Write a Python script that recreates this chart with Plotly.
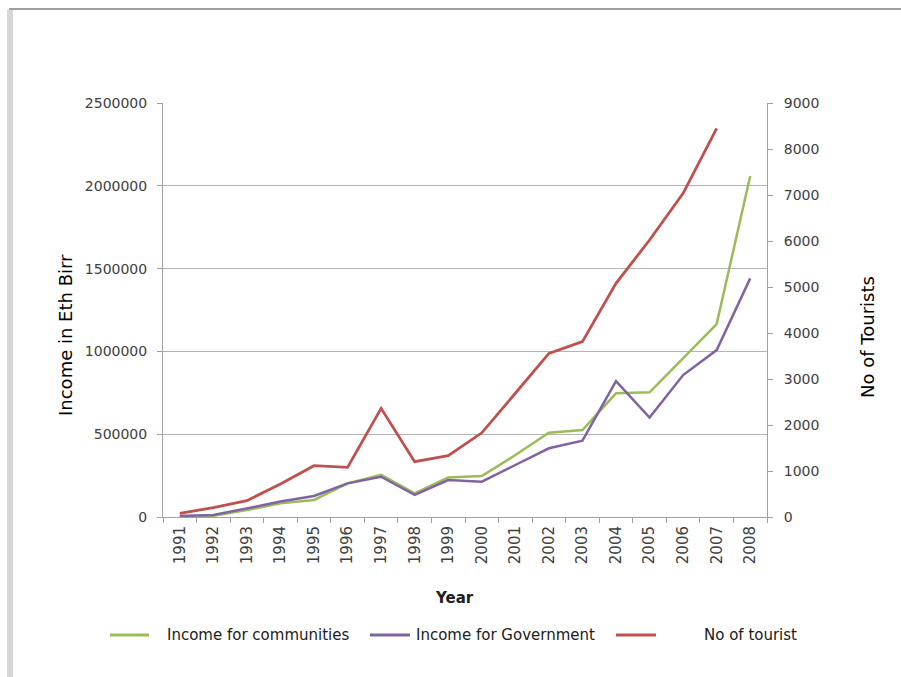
import plotly.graph_objects as go

years = [str(y) for y in range(1991, 2009)]
income_communities = [5000, 8000, 42000, 83000, 103000, 203000, 254000, 143000, 238000, 247000,
                      374000, 509000, 525000, 747000, 753000, 958000, 1165000, 2059000]
income_government = [6000, 12000, 52000, 93000, 127000, 203000, 243000, 133000, 223000, 213000,
                     314000, 415000, 461000, 821000, 600000, 857000, 1008000, 1441000]
tourists = [80, 203, 355, 717, 1116, 1080, 2362, 1203, 1333, 1830,
            2690, 3558, 3812, 5080, 6022, 7036, 8450, None]

names = ["Income for communities", "Income for Government", "No of tourist"]
colors = ["#9BBB59", "#8064A2", "#C0504D"]

FONT = "DejaVu Sans"
L, R, T, B = 163, 767, 103, 517
W, H = 901, 677


def px(x):
    return (x - L) / (R - L)


def py(y):
    return (B - y) / (B - T)


fig = go.Figure()
fig.add_trace(go.Scatter(x=years, y=income_communities, name=names[0], mode="lines",
                         line=dict(color=colors[0], width=2.5), yaxis="y"))
fig.add_trace(go.Scatter(x=years, y=income_government, name=names[1], mode="lines",
                         line=dict(color=colors[1], width=2.5), yaxis="y"))
fig.add_trace(go.Scatter(x=years, y=tourists, name=names[2], mode="lines",
                         line=dict(color=colors[2], width=2.8), yaxis="y2"))

tickfont = dict(family=FONT, size=14, color="#404040")

fig.update_layout(
    width=W, height=H,
    margin=dict(l=L, r=W - R, t=T, b=H - B),
    paper_bgcolor="white", plot_bgcolor="white",
    showlegend=False,
    xaxis=dict(type="category", range=[-0.5, 17.5], tickson="boundaries",
               ticks="outside", ticklen=5, tickcolor="#a0a0a0",
               showline=True, linecolor="#a0a0a0", linewidth=1,
               showgrid=False, tickangle=-90, ticklabelstandoff=2,
               tickfont=dict(family=FONT, size=15, color="#404040")),
    yaxis=dict(range=[0, 2500000], dtick=500000, tickformat="d",
               ticks="outside", ticklen=5, tickcolor="#a0a0a0",
               showline=True, linecolor="#a0a0a0", linewidth=1,
               showgrid=True, gridcolor="#b4b4b4", gridwidth=1,
               zeroline=False, tickfont=tickfont, ticklabelstandoff=7),
    yaxis2=dict(range=[0, 9000], dtick=1000, tickformat="d", overlaying="y", side="right",
                ticks="outside", ticklen=5, tickcolor="#a0a0a0",
                showline=True, linecolor="#a0a0a0", linewidth=1,
                showgrid=False, zeroline=False, tickfont=tickfont, ticklabelstandoff=8),
)

# Axis titles
fig.add_annotation(text="Income in Eth Birr", x=px(65), y=py(335), xref="paper", yref="paper",
                   xanchor="center", yanchor="middle", textangle=-90, showarrow=False,
                   font=dict(family=FONT, size=18, color="#000000"))
fig.add_annotation(text="No of Tourists", x=px(867), y=py(337), xref="paper", yref="paper",
                   xanchor="center", yanchor="middle", textangle=-90, showarrow=False,
                   font=dict(family=FONT, size=18, color="#000000"))
fig.add_annotation(text="<b>Year</b>", x=px(454), y=py(598), xref="paper", yref="paper",
                   xanchor="center", yanchor="middle", showarrow=False,
                   font=dict(family=FONT, size=15, color="#202020"))

# Legend (manual, Excel-like spacing)
leg_y = py(635)
leg_items = [(110, 149, 165), (370, 410, 414), (616, 656, 702)]
for (x0, x1, xt), name, color in zip(leg_items, names, colors):
    fig.add_shape(type="line", xref="paper", yref="paper", x0=px(x0), x1=px(x1),
                  y0=leg_y, y1=leg_y, line=dict(color=color, width=3))
    fig.add_annotation(text=name, x=px(xt), y=leg_y, xref="paper", yref="paper",
                       xanchor="left", yanchor="middle", showarrow=False,
                       font=dict(family=FONT, size=15, color="#202020"))

# Slide frame
fig.add_shape(type="line", xref="paper", yref="paper", x0=px(9), x1=px(901),
              y0=py(9), y1=py(9), line=dict(color="#808080", width=1.5))
fig.add_shape(type="rect", xref="paper", yref="paper", x0=px(7), x1=px(13),
              y0=py(10), y1=py(677), line=dict(width=0), fillcolor="#d6d6d6")

fig.write_html("out.html")
